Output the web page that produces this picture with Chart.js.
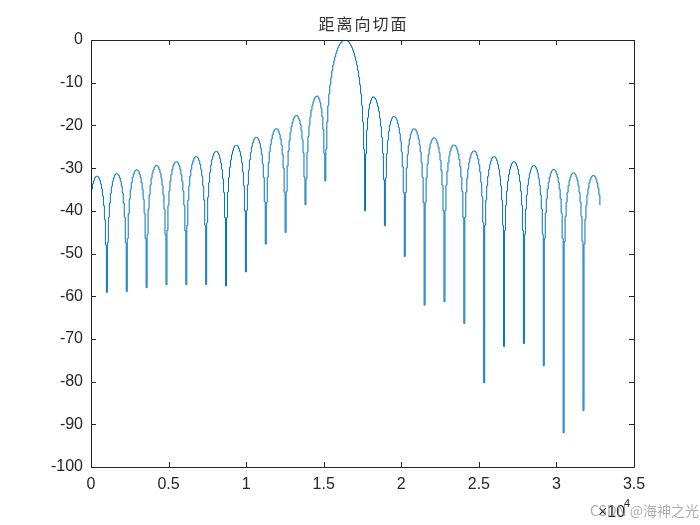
<!DOCTYPE html>
<html>
<head>
<meta charset="utf-8">
<script src="https://cdn.jsdelivr.net/npm/chart.js@4.4.1/dist/chart.umd.min.js"></script>
<style>
  html, body { margin: 0; padding: 0; background: #fff; }
  #wrap { position: relative; width: 700px; height: 525px; }
  #title { position: absolute; left: 91px; width: 545px; top: 15px; text-align: center;
           font: 16px "Noto Sans CJK SC"; line-height: 17px; letter-spacing: 2px; color: #333; }
  .axisTxt { position: absolute; font-family: "Liberation Sans", Arial, sans-serif; color: #262626; line-height: 1; }
  #mark { position: absolute; left: 590px; top: 503px; font: 14px "Noto Sans CJK SC"; line-height: 1;
          color: rgba(140, 140, 140, 0.7); white-space: nowrap; }
</style>
</head>
<body>
<div id="wrap">
  <canvas id="chart" width="700" height="525"></canvas>
  <div id="title">距离向切面</div>
  <span class="axisTxt" style="left:598px; top:504px; font-size:16px;">×10</span>
  <span class="axisTxt" style="left:624px; top:498px; font-size:11px;">4</span>
  <div id="mark">CSDN @海神之光</div>
</div>
<script>
// range cut, dB, one value per 64 samples
const sampleStep = 64;

// partial lobe at the start of the record
const leftEdge = [-36.5, -34.9, -33.7, -32.9, -32.3, -32.0, -31.9, -32.0, -32.3, -32.9, -33.7, -34.9, -36.5, -38.8, -42.1, -48.0];

// null depths, outer -> inner
const leftNulls = [-59.1, -58.9, -58.0, -57.3, -57.3, -57.3, -57.6, -54.3, -47.8, -45.1, -38.6, -33.0];

// sidelobes left of the peak, outer (11th) -> inner (1st)
const leftLobes = [
  [-47.4, -41.5, -38.2, -35.9, -34.3, -33.1, -32.3, -31.7, -31.4, -31.3, -31.4, -31.7, -32.3, -33.1, -34.3, -35.9, -38.2, -41.5, -47.4],
  [-46.5, -40.6, -37.3, -35.0, -33.4, -32.2, -31.4, -30.8, -30.5, -30.4, -30.5, -30.8, -31.4, -32.2, -33.4, -35.0, -37.3, -40.6, -46.5],
  [-45.5, -39.6, -36.3, -34.0, -32.4, -31.2, -30.4, -29.8, -29.5, -29.4, -29.5, -29.8, -30.4, -31.2, -32.4, -34.0, -36.3, -39.6, -45.5],
  [-44.6, -38.7, -35.4, -33.1, -31.5, -30.3, -29.5, -28.9, -28.6, -28.5, -28.6, -28.9, -29.5, -30.3, -31.5, -33.1, -35.4, -38.7, -44.6],
  [-43.4, -37.5, -34.2, -31.9, -30.3, -29.1, -28.3, -27.7, -27.4, -27.3, -27.4, -27.7, -28.3, -29.1, -30.3, -31.9, -34.2, -37.5, -43.4],
  [-42.8, -36.8, -33.4, -31.0, -29.3, -28.0, -27.2, -26.5, -26.2, -26.1, -26.1, -26.4, -26.9, -27.7, -28.8, -30.3, -32.5, -35.7, -41.6],
  [-41.6, -35.6, -32.2, -29.8, -28.1, -26.8, -25.9, -25.2, -24.8, -24.7, -24.7, -24.9, -25.4, -26.1, -27.2, -28.7, -30.9, -34.1, -40.0],
  [-39.9, -33.9, -30.5, -28.1, -26.3, -25.0, -24.1, -23.4, -23.0, -22.8, -22.8, -23.0, -23.5, -24.2, -25.3, -26.8, -29.0, -32.2, -37.9],
  [-38.1, -32.1, -28.7, -26.2, -24.5, -23.2, -22.2, -21.5, -21.0, -20.8, -20.8, -20.9, -21.4, -22.1, -23.2, -24.6, -26.8, -30.0, -35.7],
  [-35.5, -29.5, -26.0, -23.5, -21.7, -20.3, -19.3, -18.5, -18.0, -17.8, -17.7, -17.8, -18.2, -18.8, -19.8, -21.2, -23.3, -26.4, -32.1],
  [-32.5, -26.3, -22.6, -20.0, -18.1, -16.5, -15.4, -14.5, -13.8, -13.4, -13.2, -13.1, -13.4, -13.9, -14.7, -16.0, -18.0, -20.9, -26.5]
];

const mainLobe = [-25.6, -19.2, -15.4, -12.6, -10.5, -8.7, -7.2, -5.9, -4.9, -3.9, -3.1, -2.4, -1.8, -1.3, -0.9, -0.6, -0.3, -0.1, 0.0,
  0.0, 0.0, -0.1, -0.3, -0.6, -0.9, -1.3, -1.8, -2.4, -3.1, -3.9, -4.9, -5.9, -7.2, -8.7, -10.5, -12.6, -15.4, -19.2, -25.6];

// null depths, inner -> outer
const rightNulls = [-40.0, -43.5, -50.7, -62.1, -61.3, -66.4, -80.3, -71.8, -71.1, -76.3, -92.0, -86.8];

// sidelobes right of the peak, inner (1st) -> outer (11th)
const rightLobes = [
  [-26.7, -21.1, -18.2, -16.2, -14.9, -14.1, -13.6, -13.3, -13.4, -13.6, -14.0, -14.7, -15.6, -16.7, -18.3, -20.2, -22.8, -26.5, -32.7],
  [-32.3, -26.6, -23.5, -21.4, -20.0, -19.0, -18.4, -18.0, -17.9, -18.0, -18.2, -18.7, -19.5, -20.5, -21.9, -23.7, -26.2, -29.7, -35.7],
  [-35.7, -30.0, -26.8, -24.6, -23.2, -22.1, -21.4, -20.9, -20.8, -20.8, -21.0, -21.5, -22.2, -23.2, -24.5, -26.2, -28.7, -32.1, -38.1],
  [-38.0, -32.3, -29.1, -26.9, -25.4, -24.3, -23.6, -23.1, -22.9, -22.9, -23.1, -23.5, -24.2, -25.1, -26.4, -28.2, -30.6, -34.0, -40.0],
  [-39.9, -34.0, -30.8, -28.6, -27.1, -26.0, -25.3, -24.8, -24.6, -24.6, -24.7, -25.1, -25.8, -26.7, -28.0, -29.7, -32.1, -35.5, -41.5],
  [-41.5, -35.6, -32.4, -30.2, -28.7, -27.6, -26.8, -26.3, -26.0, -26.0, -26.1, -26.4, -27.1, -27.9, -29.2, -30.9, -33.3, -36.7, -42.7],
  [-43.4, -37.5, -34.2, -31.9, -30.3, -29.1, -28.3, -27.7, -27.4, -27.3, -27.4, -27.7, -28.3, -29.1, -30.3, -31.9, -34.2, -37.5, -43.4],
  [-44.6, -38.7, -35.4, -33.1, -31.5, -30.3, -29.5, -28.9, -28.6, -28.5, -28.6, -28.9, -29.5, -30.3, -31.5, -33.1, -35.4, -38.7, -44.6],
  [-45.5, -39.6, -36.3, -34.0, -32.4, -31.2, -30.4, -29.8, -29.5, -29.4, -29.5, -29.8, -30.4, -31.2, -32.4, -34.0, -36.3, -39.6, -45.5],
  [-46.4, -40.5, -37.2, -34.9, -33.3, -32.1, -31.3, -30.7, -30.4, -30.3, -30.4, -30.7, -31.3, -32.1, -33.3, -34.9, -37.2, -40.5, -46.4],
  [-47.2, -41.3, -38.0, -35.7, -34.1, -32.9, -32.1, -31.5, -31.2, -31.1, -31.2, -31.5, -32.1, -32.9, -34.1, -35.7, -38.0, -41.3, -47.2]
];

// partial lobe at the end of the record
const rightEdge = [-47.8, -41.9, -38.6, -36.3, -34.7, -33.5, -32.7, -32.1, -31.8, -31.7, -31.8, -32.1, -32.7, -33.5, -34.7, -36.3, -38.6];

const xTicks = [0, 5000, 10000, 15000, 20000, 25000, 30000, 35000];
const yTicks = [-100, -90, -80, -70, -60, -50, -40, -30, -20, -10, 0];

// put the record back together in order
let levels = [...leftEdge];
leftNulls.forEach((n, k) => {
  levels.push(n);
  if (k < leftLobes.length) levels.push(...leftLobes[k]);
});
levels.push(...mainLobe);
rightNulls.forEach((n, k) => {
  levels.push(n);
  if (k < rightLobes.length) levels.push(...rightLobes[k]);
});
levels.push(...rightEdge);

const points = levels.map((v, i) => ({ x: i * sampleStep, y: v }));

const axisColor = "#262626";

// matlab style box with ticks pointing inward on all four sides
const boxTicks = {
  id: "boxTicks",
  afterDatasetsDraw(chart) {
    const { ctx, chartArea: a, scales } = chart;
    const len = 5;
    ctx.save();
    ctx.strokeStyle = axisColor;
    ctx.lineWidth = 1;
    ctx.beginPath();
    scales.x.ticks.forEach((t) => {
      const px = Math.round(scales.x.getPixelForValue(t.value)) + 0.5;
      ctx.moveTo(px, a.bottom);
      ctx.lineTo(px, a.bottom - len);
      ctx.moveTo(px, a.top);
      ctx.lineTo(px, a.top + len);
    });
    scales.y.ticks.forEach((t) => {
      const py = Math.round(scales.y.getPixelForValue(t.value)) + 0.5;
      ctx.moveTo(a.left, py);
      ctx.lineTo(a.left + len, py);
      ctx.moveTo(a.right, py);
      ctx.lineTo(a.right - len, py);
    });
    ctx.rect(Math.round(a.left) + 0.5, Math.round(a.top) + 0.5,
      Math.round(a.right) - Math.round(a.left), Math.round(a.bottom) - Math.round(a.top));
    ctx.stroke();
    ctx.restore();
  },
};

const tickFont = { family: '"Liberation Sans", Arial, sans-serif', size: 16 };

new Chart(document.getElementById("chart"), {
  type: "line",
  data: {
    datasets: [
      {
        data: points,
        borderColor: "#0072BD",
        borderWidth: 1,
        pointRadius: 0,
        stepped: "middle",
        fill: false,
      },
    ],
  },
  options: {
    responsive: false,
    animation: false,
    events: [],
    layout: { padding: { top: 40, right: 66, bottom: 0, left: 0 } },
    plugins: { legend: { display: false }, tooltip: { enabled: false }, title: { display: false } },
    scales: {
      x: {
        type: "linear",
        min: 0,
        max: 35000,
        afterFit: (s) => { s.height = 58; },
        afterBuildTicks: (s) => { s.ticks = xTicks.map((v) => ({ value: v })); },
        grid: { display: false, drawTicks: false },
        border: { display: false },
        ticks: {
          font: tickFont,
          color: axisColor,
          padding: 8,
          maxRotation: 0,
          callback: (v) => String(v / 10000),
        },
      },
      y: {
        min: -100,
        max: 0,
        afterFit: (s) => { s.width = 91; },
        afterBuildTicks: (s) => { s.ticks = yTicks.map((v) => ({ value: v })); },
        grid: { display: false, drawTicks: false },
        border: { display: false },
        ticks: { font: tickFont, color: axisColor, padding: 8 },
      },
    },
  },
  plugins: [boxTicks],
});
</script>
</body>
</html>
